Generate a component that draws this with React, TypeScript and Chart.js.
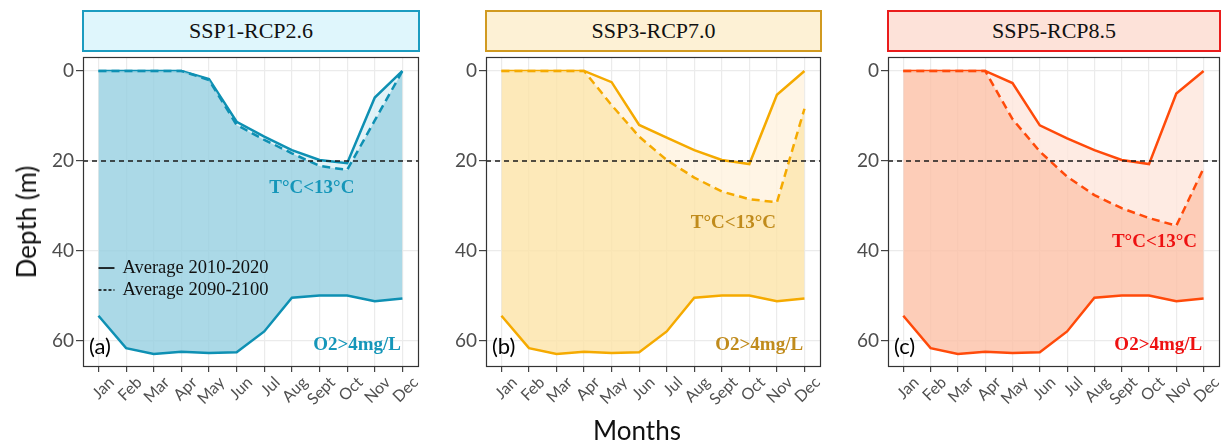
import React, { useEffect, useRef } from "react";
import { Chart, registerables } from "chart.js";
Chart.register(...registerables);

const months = ["Jan", "Feb", "Mar", "Apr", "May", "Jun", "Jul", "Aug", "Sept", "Oct", "Nov", "Dec"];
const yTicks = [0, 20, 40, 60];
const threshold = 20;
const o2Depth = [54.4, 61.6, 62.9, 62.4, 62.7, 62.5, 57.9, 50.4, 49.9, 49.9, 51.2, 50.6];
const ssp1Current = [0, 0, 0, 0, 1.8, 11.3, 14.6, 17.6, 19.8, 20.5, 5.9, 0];
const ssp1Future = [0, 0, 0, 0, 2, 12, 15.3, 18.3, 21.1, 22, 11, 0];
const ssp3Current = [0, 0, 0, 0, 2.5, 12, 14.8, 17.6, 19.8, 20.7, 5.3, 0];
const ssp3Future = [0, 0, 0, 0, 7.6, 14.6, 19.8, 23.7, 26.8, 28.5, 29.2, 8.4];
const ssp5Current = [0, 0, 0, 0, 2.7, 12.1, 15, 17.6, 19.8, 20.7, 5, 0];
const ssp5Future = [0, 0, 0, 0, 10.7, 17.9, 23.5, 27.6, 30.5, 32.7, 34.4, 21.6];
const legendLabels = ["Average 2010-2020", "Average 2090-2100"];

const panels = [
  {
    title: "SSP1-RCP2.6", tag: "(a)", current: ssp1Current, future: ssp1Future,
    line: "#0e90b3", dark: "rgba(150,208,225,0.8)", light: "rgba(218,240,246,0.8)",
    headBg: "#dff6fc", headBorder: "#1b9cc0", text: "#1596b9",
    tempPos: [7.72, 26], plotLeft: 83, plotRight: 419, legend: true,
  },
  {
    title: "SSP3-RCP7.0", tag: "(b)", current: ssp3Current, future: ssp3Future,
    line: "#f5aa00", dark: "rgba(253,228,168,0.8)", light: "rgba(255,243,222,0.8)",
    headBg: "#fdf1d5", headBorder: "#d19a20", text: "#c08b1c",
    tempPos: [8.42, 33.8], plotLeft: 486, plotRight: 821, legend: false,
  },
  {
    title: "SSP5-RCP8.5", tag: "(c)", current: ssp5Current, future: ssp5Future,
    line: "#ff4a0a", dark: "rgba(253,192,166,0.8)", light: "rgba(254,230,220,0.8)",
    headBg: "#fde2d9", headBorder: "#ea1c1c", text: "#ee1111",
    tempPos: [9.2, 38], plotLeft: 888, plotRight: 1220, legend: false,
  },
];

const Y_AXIS_W = 45;
const CANVAS_TOP = 50;
const CANVAS_H = 372;
const PLOT_TOP = 57;
const PLOT_BOTTOM = 367;
const PAD_RIGHT = 20;

function Panel({ p }: { p: any }) {
  const ref = useRef<HTMLCanvasElement>(null);
  useEffect(() => {
    const pts = (arr: number[]) => arr.map((v, i) => ({ x: i, y: v }));
    const deco = {
      id: "deco",
      afterDatasetsDraw(chart: any) {
        const { ctx, chartArea: a, scales } = chart;
        const x = scales.x, y = scales.y;
        ctx.save();
        ctx.strokeStyle = "#1a1a1a";
        ctx.lineWidth = 1.5;
        ctx.setLineDash([5, 4]);
        const ty = y.getPixelForValue(threshold);
        ctx.beginPath();
        ctx.moveTo(a.left, ty);
        ctx.lineTo(a.right, ty);
        ctx.stroke();
        ctx.setLineDash([]);
        ctx.strokeStyle = "#333";
        ctx.lineWidth = 1.2;
        ctx.strokeRect(a.left + 0.5, a.top + 0.5, a.right - a.left - 1, a.bottom - a.top - 1);
        ctx.fillStyle = p.text;
        ctx.font = 'bold 19px "Liberation Serif"';
        ctx.textBaseline = "middle";
        ctx.textAlign = "center";
        ctx.fillText("T°C<13°C", x.getPixelForValue(p.tempPos[0]), y.getPixelForValue(p.tempPos[1]));
        ctx.textAlign = "right";
        ctx.fillText("O2>4mg/L", x.getPixelForValue(10.95), y.getPixelForValue(61));
        ctx.fillStyle = "#000";
        ctx.font = "22px Lato";
        ctx.textAlign = "left";
        ctx.fillText(p.tag, a.left + 6, y.getPixelForValue(61.3));
        if (p.legend) {
          const lx = x.getPixelForValue(0);
          const rows = [43.8, 48.7];
          ctx.strokeStyle = "#000";
          ctx.lineWidth = 1.6;
          rows.forEach((rv, i) => {
            const ly = y.getPixelForValue(rv);
            ctx.setLineDash(i === 0 ? [] : [3, 2]);
            ctx.beginPath();
            ctx.moveTo(lx, ly);
            ctx.lineTo(lx + 16, ly);
            ctx.stroke();
            ctx.setLineDash([]);
            ctx.fillStyle = "#111";
            ctx.font = '18.5px "Liberation Serif"';
            ctx.fillText(legendLabels[i], lx + 24, ly);
          });
        }
        ctx.restore();
      },
    };
    const chart = new Chart(ref.current!, {
      type: "line",
      data: {
        datasets: [
          {
            data: pts(o2Depth), borderColor: p.line, borderWidth: 2.5, pointRadius: 0, fill: false, tension: 0,
          },
          {
            data: pts(p.future), borderColor: p.line, borderWidth: 2.5, borderDash: [8, 5], pointRadius: 0,
            fill: { target: 0 }, backgroundColor: p.dark, tension: 0,
          },
          {
            data: pts(p.current), borderColor: p.line, borderWidth: 2.5, pointRadius: 0,
            fill: { target: 1 }, backgroundColor: p.light, tension: 0,
          },
        ],
      },
      options: {
        animation: false,
        responsive: false,
        maintainAspectRatio: false,
        layout: { padding: { top: PLOT_TOP - CANVAS_TOP, right: PAD_RIGHT, left: 0, bottom: 0 } },
        plugins: { legend: { display: false }, tooltip: { enabled: false } },
        scales: {
          x: {
            type: "linear", min: -0.56, max: 11.6,
            afterBuildTicks: (s: any) => { s.ticks = months.map((_, i) => ({ value: i })); },
            afterFit: (s: any) => {
              s.height = CANVAS_TOP + CANVAS_H - PLOT_BOTTOM;
              s.paddingLeft = 0; s.paddingRight = 0;
            },
            grid: { color: "#ebebeb", tickColor: "#444", tickLength: 5, drawTicks: true, lineWidth: 1.2 },
            border: { display: false },
            ticks: {
              autoSkip: false, minRotation: 45, maxRotation: 45, color: "#505050",
              font: { family: "Lato", size: 16 }, padding: 1, labelOffset: 13,
              callback: (v: any) => months[v as number],
            },
          },
          y: {
            type: "linear", reverse: true, min: -3.1, max: 65.8,
            afterBuildTicks: (s: any) => { s.ticks = yTicks.map((v) => ({ value: v })); },
            afterFit: (s: any) => {
              s.width = Y_AXIS_W;
              s.paddingTop = 0; s.paddingBottom = 0;
            },
            grid: { color: "#ebebeb", tickColor: "#444", tickLength: 7, drawTicks: true, lineWidth: 1.2 },
            border: { display: false },
            ticks: { color: "#4d4d4d", font: { family: "Lato", size: 19 }, padding: 2 },
          },
        },
      },
      plugins: [deco],
    } as any);
    return () => chart.destroy();
  }, []);
  const left = p.plotLeft - Y_AXIS_W;
  const width = p.plotRight - p.plotLeft + Y_AXIS_W + PAD_RIGHT;
  return (
    <>
      <div
        style={{
          position: "absolute", left: p.plotLeft - 1, top: 10, width: p.plotRight - p.plotLeft + 2, height: 42,
          boxSizing: "border-box", border: `2px solid ${p.headBorder}`, background: p.headBg,
          display: "flex", alignItems: "center", justifyContent: "center",
          fontFamily: '"Liberation Serif"', fontSize: 22, color: "#111",
        }}
      >
        {p.title}
      </div>
      <canvas
        ref={ref}
        width={width}
        height={CANVAS_H}
        style={{ position: "absolute", left, top: CANVAS_TOP, width, height: CANVAS_H }}
      />
    </>
  );
}

export default function App() {
  return (
    <div style={{ position: "absolute", left: 0, top: 0, width: 1223, height: 442, background: "#fff", overflow: "hidden" }}>
      {panels.map((p) => (
        <Panel key={p.title} p={p} />
      ))}
      <div
        style={{
          position: "absolute", left: 26, top: 222, transform: "translate(-50%, -50%) rotate(-90deg)",
          fontFamily: "Lato", fontSize: 26, color: "#111", whiteSpace: "nowrap",
        }}
      >
        Depth (m)
      </div>
      <div
        style={{
          position: "absolute", left: 637, top: 430, transform: "translate(-50%, -50%)",
          fontFamily: "Lato", fontSize: 26, color: "#111", whiteSpace: "nowrap",
        }}
      >
        Months
      </div>
    </div>
  );
}
